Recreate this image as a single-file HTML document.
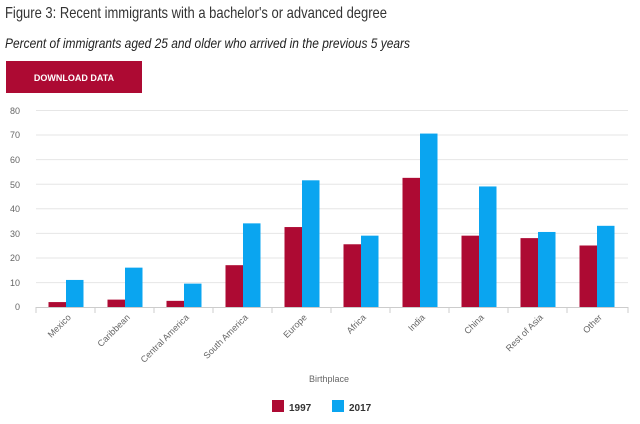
<!DOCTYPE html>
<html><head><meta charset="utf-8"><style>
body{margin:0;background:#fff;width:640px;height:419px;overflow:hidden;font-family:"Liberation Sans",sans-serif}
</style></head><body>
<svg width="640" height="419" xmlns="http://www.w3.org/2000/svg" font-family="Liberation Sans, sans-serif">
<text x="5" y="18" font-size="16" fill="#333" textLength="382" lengthAdjust="spacingAndGlyphs">Figure 3: Recent immigrants with a bachelor's or advanced degree</text>
<text x="5" y="48" font-size="14" font-style="italic" fill="#222" textLength="405" lengthAdjust="spacingAndGlyphs">Percent of immigrants aged 25 and older who arrived in the previous 5 years</text>
<rect x="6" y="61" width="136" height="32" fill="#ad0a33"/>
<text x="74" y="81" font-size="9" font-weight="bold" fill="#fff" text-anchor="middle">DOWNLOAD DATA</text>
<g stroke="#e6e6e6">
<line x1="36" x2="628" y1="110.5" y2="110.5"/><line x1="36" x2="628" y1="135" y2="135"/><line x1="36" x2="628" y1="159.6" y2="159.6"/><line x1="36" x2="628" y1="184.2" y2="184.2"/><line x1="36" x2="628" y1="208.8" y2="208.8"/><line x1="36" x2="628" y1="233.4" y2="233.4"/><line x1="36" x2="628" y1="258" y2="258"/><line x1="36" x2="628" y1="282.6" y2="282.6"/>
</g>
<g font-size="9" fill="#666" text-anchor="end">
<text x="20" y="114">80</text><text x="20" y="138">70</text><text x="20" y="163">60</text><text x="20" y="188">50</text><text x="20" y="212">40</text><text x="20" y="237">30</text><text x="20" y="261">20</text><text x="20" y="286">10</text><text x="20" y="310">0</text>
</g>
<line x1="36" x2="628" y1="307.5" y2="307.5" stroke="#ccc"/>
<g stroke="#ccc">
<line x1="36" x2="36" y1="307" y2="313"/><line x1="95" x2="95" y1="307" y2="313"/><line x1="154" x2="154" y1="307" y2="313"/><line x1="213" x2="213" y1="307" y2="313"/><line x1="272" x2="272" y1="307" y2="313"/><line x1="331" x2="331" y1="307" y2="313"/><line x1="390" x2="390" y1="307" y2="313"/><line x1="449" x2="449" y1="307" y2="313"/><line x1="508" x2="508" y1="307" y2="313"/><line x1="567" x2="567" y1="307" y2="313"/><line x1="628" x2="628" y1="307" y2="313"/>
</g>
<g fill="#ad0a33">
<rect x="48.5" y="302.08" width="17.5" height="4.92"/>
<rect x="107.5" y="299.62" width="17.5" height="7.38"/>
<rect x="166.5" y="300.85" width="17.5" height="6.15"/>
<rect x="225.5" y="265.18" width="17.5" height="41.82"/>
<rect x="284.5" y="227.05" width="17.5" height="79.95"/>
<rect x="343.5" y="244.27" width="17.5" height="62.73"/>
<rect x="402.5" y="177.85" width="17.5" height="129.15"/>
<rect x="461.5" y="235.66" width="17.5" height="71.34"/>
<rect x="520.5" y="238.12" width="17.5" height="68.88"/>
<rect x="579.5" y="245.5" width="17.5" height="61.5"/>
</g>
<g fill="#0aa5f0">
<rect x="66" y="279.94" width="17.5" height="27.06"/>
<rect x="125" y="267.64" width="17.5" height="39.36"/>
<rect x="184" y="283.63" width="17.5" height="23.37"/>
<rect x="243" y="223.36" width="17.5" height="83.64"/>
<rect x="302" y="180.31" width="17.5" height="126.69"/>
<rect x="361" y="235.66" width="17.5" height="71.34"/>
<rect x="420" y="133.57" width="17.5" height="173.43"/>
<rect x="479" y="186.46" width="17.5" height="120.54"/>
<rect x="538" y="231.97" width="17.5" height="75.03"/>
<rect x="597" y="225.82" width="17.5" height="81.18"/>
</g>
<g font-size="9" fill="#666" text-anchor="end">
<text transform="translate(71.5,318) rotate(-45)">Mexico</text>
<text transform="translate(130.5,318) rotate(-45)">Caribbean</text>
<text transform="translate(189.5,318) rotate(-45)">Central America</text>
<text transform="translate(248.5,318) rotate(-45)">South America</text>
<text transform="translate(307.5,318) rotate(-45)">Europe</text>
<text transform="translate(366.5,318) rotate(-45)">Africa</text>
<text transform="translate(425.5,318) rotate(-45)">India</text>
<text transform="translate(484.5,318) rotate(-45)">China</text>
<text transform="translate(543.5,318) rotate(-45)">Rest of Asia</text>
<text transform="translate(602.5,318) rotate(-45)">Other</text>
</g>
<text x="329" y="382" font-size="9" fill="#666" text-anchor="middle">Birthplace</text>
<rect x="272" y="400" width="12" height="12" fill="#ad0a33"/><text x="289" y="411" font-size="10" font-weight="bold" fill="#333">1997</text>
<rect x="332" y="400" width="12" height="12" fill="#0aa5f0"/><text x="349" y="411" font-size="10" font-weight="bold" fill="#333">2017</text>
</svg>
</body></html>
